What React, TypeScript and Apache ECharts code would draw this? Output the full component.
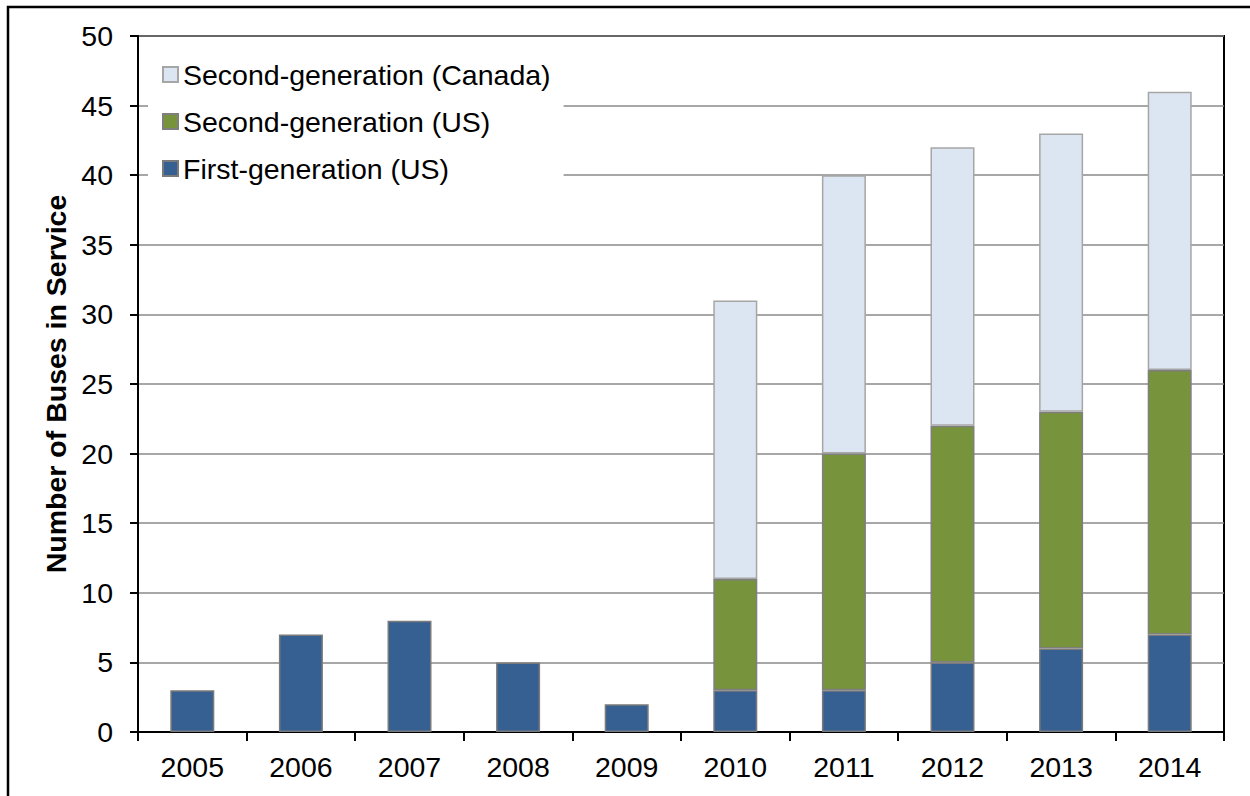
import React, { useEffect, useRef } from "react";
import * as echarts from "echarts";

const years = ["2005", "2006", "2007", "2008", "2009", "2010", "2011", "2012", "2013", "2014"];
const firstGenUS = [3, 7, 8, 5, 2, 3, 3, 5, 6, 7];
const secondGenUS = [0, 0, 0, 0, 0, 8, 17, 17, 17, 19];
const secondGenCanada = [0, 0, 0, 0, 0, 20, 20, 20, 20, 20];
const seriesNames = ["Second-generation (Canada)", "Second-generation (US)", "First-generation (US)"];
const yTicks = { min: 0, max: 50, interval: 5 };

const FONT = "'Liberation Sans', Arial, sans-serif";
const FS = 28.5;

export default function App() {
  const ref = useRef<HTMLDivElement>(null);
  useEffect(() => {
    if (!ref.current) return;
    const chart = echarts.init(ref.current, null, { renderer: "svg" });
    const toData = (arr: number[]) => arr.map((v) => (v === 0 ? null : v));
    chart.setOption({
      animation: false,
      backgroundColor: "#ffffff",
      textStyle: { fontFamily: FONT },
      grid: {
        left: 138,
        right: 26,
        top: 36,
        bottom: 64,
        show: true,
        borderColor: "#000000",
        borderWidth: 2,
        containLabel: false,
      },
      legend: {
        data: seriesNames.map((n) => ({ name: n, icon: "rect" })),
        orient: "vertical",
        left: 148,
        top: 46,
        padding: [14, 13, 14, 14],
        backgroundColor: "#ffffff",
        itemWidth: 15,
        itemHeight: 15,
        itemGap: 18,
        textStyle: { fontSize: FS, color: "#000000", fontFamily: FONT },
        selectedMode: false,
      },
      xAxis: {
        type: "category",
        data: years,
        boundaryGap: true,
        axisLine: { show: true, lineStyle: { color: "#000000", width: 2 } },
        axisTick: { show: true, length: 9, alignWithLabel: false, lineStyle: { color: "#000000", width: 2 } },
        axisLabel: { fontSize: FS, color: "#000000", margin: 20, fontFamily: FONT },
        splitLine: { show: false },
      },
      yAxis: {
        type: "value",
        min: yTicks.min,
        max: yTicks.max,
        interval: yTicks.interval,
        name: "Number of Buses in Service",
        nameLocation: "middle",
        nameRotate: 90,
        nameGap: 68,
        nameTextStyle: { fontSize: FS, fontWeight: "bold", color: "#000000", fontFamily: FONT },
        axisLine: { show: true, lineStyle: { color: "#000000", width: 2 } },
        axisTick: { show: true, length: 8, lineStyle: { color: "#000000", width: 2 } },
        axisLabel: { fontSize: FS, color: "#000000", margin: 25, fontFamily: FONT },
        splitLine: { show: true, lineStyle: { color: "#8a8a8a", width: 1.5 } },
      },
      series: [
        {
          name: seriesNames[2],
          type: "bar",
          stack: "total",
          barWidth: 44,
          data: toData(firstGenUS),
          itemStyle: { color: "#376092", borderColor: "#7a7a7a", borderWidth: 1.5 },
        },
        {
          name: seriesNames[1],
          type: "bar",
          stack: "total",
          barWidth: 44,
          data: toData(secondGenUS),
          itemStyle: { color: "#77933c", borderColor: "#7f7f7f", borderWidth: 1.5 },
        },
        {
          name: seriesNames[0],
          type: "bar",
          stack: "total",
          barWidth: 44,
          data: toData(secondGenCanada),
          itemStyle: { color: "#dce6f2", borderColor: "#a6a6a6", borderWidth: 1.5 },
        },
      ],
      graphic: [
        {
          type: "rect",
          shape: { x: 8, y: 7, width: 1400, height: 1000 },
          style: { fill: "none", stroke: "#000000", lineWidth: 2.5 },
          silent: true,
          z: 100,
        },
      ],
    });
    return () => chart.dispose();
  }, []);
  return (
    <div
      ref={ref}
      style={{ position: "fixed", left: 0, top: 0, width: 1250, height: 796 }}
    />
  );
}
